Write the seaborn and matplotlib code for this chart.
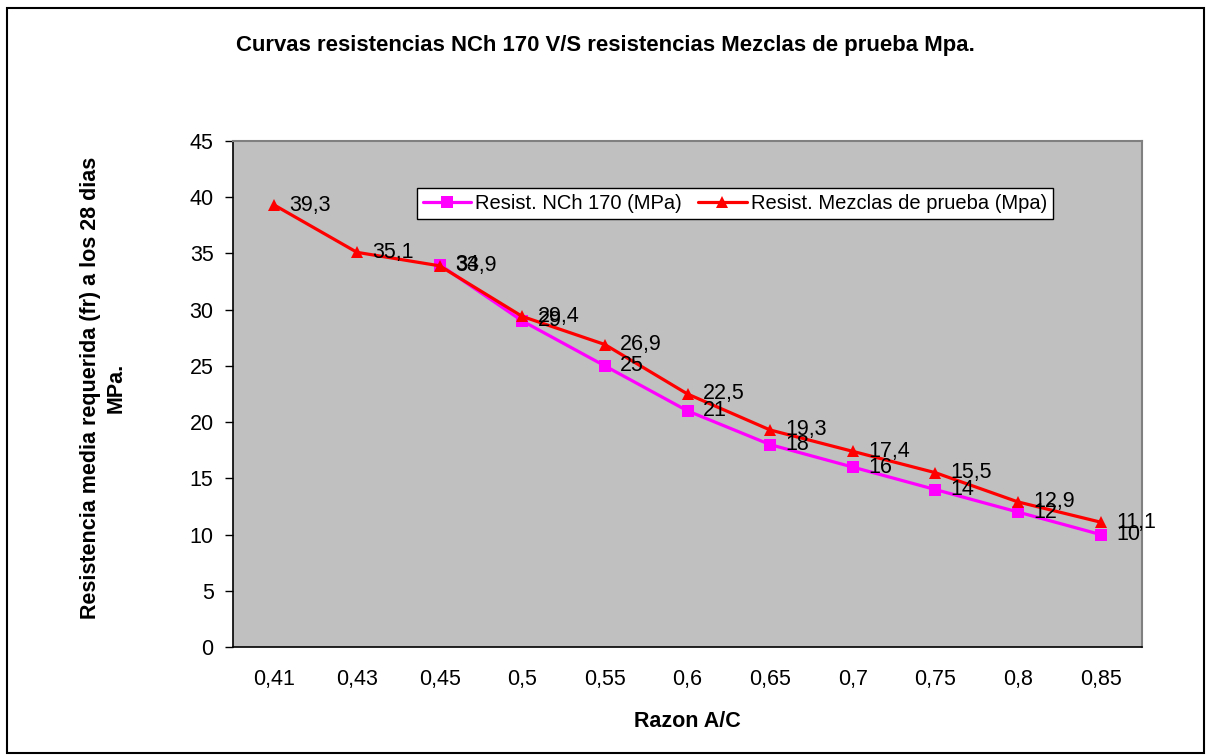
import matplotlib
matplotlib.use("Agg")
import matplotlib.pyplot as plt
import seaborn as sns
import pandas as pd
import numpy as np
from matplotlib.patches import Rectangle

sns.set_style("white")
plt.rcParams['font.family'] = ['Liberation Sans', 'DejaVu Sans']
plt.rcParams['text.color'] = 'black'
plt.rcParams['axes.labelcolor'] = 'black'
plt.rcParams['xtick.color'] = 'black'
plt.rcParams['ytick.color'] = 'black'

categories = ["0,41", "0,43", "0,45", "0,5", "0,55", "0,6", "0,65", "0,7", "0,75", "0,8", "0,85"]
nch_values = [np.nan, np.nan, 34, 29, 25, 21, 18, 16, 14, 12, 10]
mezclas_values = [39.3, 35.1, 33.9, 29.4, 26.9, 22.5, 19.3, 17.4, 15.5, 12.9, 11.1]
series_names = ["Resist. NCh 170 (MPa)", "Resist. Mezclas de prueba (Mpa)"]

df = pd.DataFrame({
    "Razon": categories * 2,
    "valor": nch_values + mezclas_values,
    "serie": [series_names[0]] * len(categories) + [series_names[1]] * len(categories),
})
df["pos"] = list(range(len(categories))) * 2
df = df.dropna()

fig = plt.figure(figsize=(12.06, 7.55), dpi=100)
ax = fig.add_axes([233/1206, 108/755, 909/1206, 506/755])
ax.set_facecolor("#C0C0C0")

palette = {series_names[0]: "#FF00FF", series_names[1]: "#FF0000"}
markers = {series_names[0]: "s", series_names[1]: "^"}
sns.lineplot(data=df, x="pos", y="valor", hue="serie", style="serie",
             palette=palette, markers=markers, dashes=False, linewidth=2.3,
             markersize=8, markeredgewidth=0, ax=ax, legend=True,
             hue_order=series_names, style_order=series_names)

FS = 15.5

# data labels
for vals in (nch_values, mezclas_values):
    for i, v in enumerate(vals):
        if np.isnan(v):
            continue
        lbl = ("%g" % v).replace(".", ",")
        ax.annotate(lbl, (i, v), xytext=(11, 0), textcoords="offset points",
                    va="center", ha="left", fontsize=FS, color="black")

ax.set_xlim(-0.5, len(categories) - 0.5)
ax.set_ylim(0, 45)
ax.set_yticks(np.arange(0, 46, 5))
ax.set_xticks(range(len(categories)))
ax.set_xticklabels(categories)
ax.set_xticks(np.arange(-0.5, len(categories), 1), minor=True)
ax.tick_params(axis="x", which="major", length=0, pad=16, labelsize=FS, labelcolor="black")
ax.tick_params(axis="x", which="minor", length=6, width=1, color="black", direction="out")
ax.tick_params(axis="y", which="major", length=6, width=1, color="black", direction="out",
               left=True, labelsize=FS, pad=8, labelcolor="black")
ax.grid(False)

for s in ("left", "bottom"):
    ax.spines[s].set_color("black")
    ax.spines[s].set_linewidth(1.2)
for s in ("top", "right"):
    ax.spines[s].set_color("#808080")
    ax.spines[s].set_linewidth(1.5)

ax.set_xlabel("Razon A/C", fontsize=FS, fontweight="bold", labelpad=15, color="black")
ax.set_ylabel("")
fig.text(103 / 1206, 1 - 388 / 755, "Resistencia media requerida (fr) a los 28 dias\nMPa.",
         rotation=90, ha="center", va="center", multialignment="center",
         fontsize=FS, fontweight="bold", linespacing=1.3, color="black")

fig.text((235 + 975) / 2 / 1206, 1 - 46 / 755, "Curvas resistencias NCh 170 V/S resistencias Mezclas de prueba Mpa.",
         ha="center", va="center", fontsize=15.9, fontweight="bold", color="black")

leg = ax.legend(loc="upper left", bbox_to_anchor=((417 - 233) / 909, (647 - 188) / 506),
                ncol=2, frameon=True, fancybox=False, fontsize=14.5, handlelength=2.4,
                columnspacing=0.8, handletextpad=0.2, borderpad=0.3, borderaxespad=0)
leg.get_frame().set_edgecolor("black")
leg.get_frame().set_linewidth(1.0)
leg.get_frame().set_facecolor("white")
leg.get_frame().set_alpha(1)
leg.set_title(None)
for t in leg.get_texts():
    t.set_color("black")

fig.patches.append(Rectangle((7 / 1206, 2 / 755), 1197 / 1206, 745 / 755, transform=fig.transFigure,
                             fill=False, edgecolor="black", linewidth=1.5))

fig.savefig("out.png", dpi=100, facecolor="white")
